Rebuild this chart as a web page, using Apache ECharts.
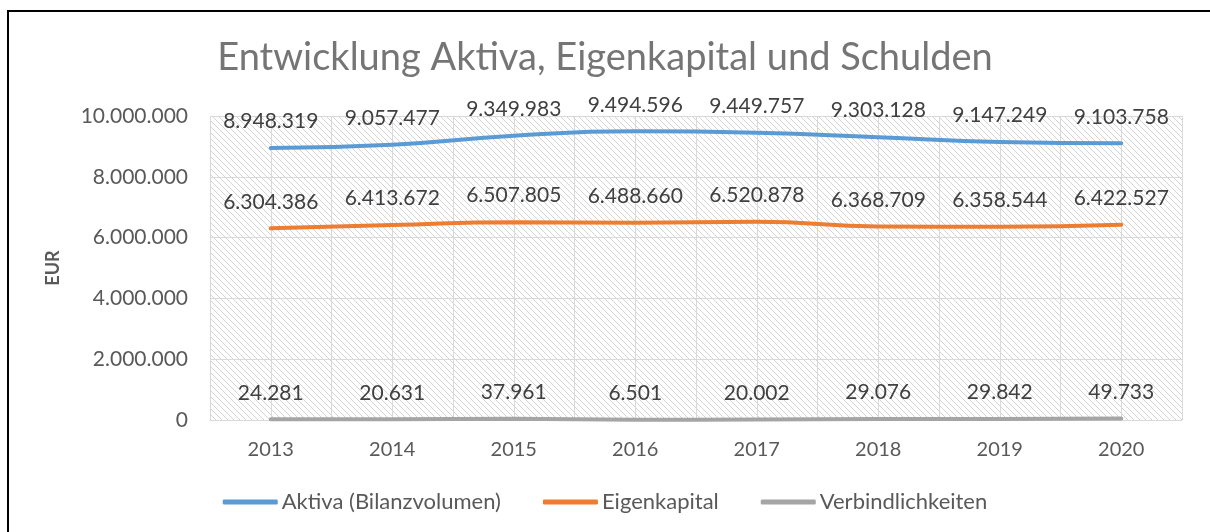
<!DOCTYPE html>
<html>
<head>
<meta charset="utf-8">
<script src="https://cdn.jsdelivr.net/npm/echarts@6/dist/echarts.min.js"></script>
<style>
  html, body { margin: 0; padding: 0; background: #fff; }
  #main { width: 1210px; height: 532px; }
</style>
</head>
<body>
<div id="main"></div>
<script>
// Werte aus der Vorlage
var jahre = ['2013', '2014', '2015', '2016', '2017', '2018', '2019', '2020'];
var aktiva = [8948319, 9057477, 9349983, 9494596, 9449757, 9303128, 9147249, 9103758];
var eigenkapital = [6304386, 6413672, 6507805, 6488660, 6520878, 6368709, 6358544, 6422527];
var verbindlichkeiten = [24281, 20631, 37961, 6501, 20002, 29076, 29842, 49733];
var halbeSpalten = ['', '', '', '', '', '', '', '', '', '', '', '', '', '', '', ''];

var schrift = 'Lato, "Open Sans", sans-serif';

// Punkt als Tausendertrenner
function deZahl(v) {
    return String(Math.round(v)).replace(/\B(?=(\d{3})+(?!\d))/g, '.');
}

// schraffierter Hintergrund der Zeichenfläche
var muster = document.createElement('canvas');
muster.width = 6;
muster.height = 6;
var ctx = muster.getContext('2d');
ctx.fillStyle = '#ffffff';
ctx.fillRect(0, 0, 6, 6);
ctx.strokeStyle = '#d4d4d4';
ctx.lineWidth = 1;
ctx.beginPath();
ctx.moveTo(-1, -1); ctx.lineTo(7, 7);
ctx.moveTo(-1, 5); ctx.lineTo(1, 7);
ctx.moveTo(5, -1); ctx.lineTo(7, 1);
ctx.stroke();

var myChart = echarts.init(document.getElementById('main'));

function linie(name, daten, farbe) {
    return {
        name: name,
        type: 'line',
        data: daten,
        smooth: true,
        showSymbol: true,
        symbol: 'circle',
        symbolSize: 0,
        lineStyle: { width: 4, color: farbe, cap: 'round' },
        itemStyle: { color: farbe },
        label: {
            show: true,
            position: 'top',
            distance: 16,
            fontFamily: schrift,
            fontSize: 21,
            color: '#404040',
            formatter: function (p) { return deZahl(p.value); }
        }
    };
}

option = {
    backgroundColor: '#ffffff',
    animation: false,
    title: {
        text: 'Entwicklung Aktiva, Eigenkapital und Schulden',
        left: 'center',
        top: 34,
        textStyle: {
            fontFamily: schrift,
            fontSize: 38,
            fontWeight: 'normal',
            color: '#757575'
        }
    },
    graphic: [{
        type: 'rect',
        shape: { x: 8, y: 11, width: 1300, height: 600 },
        style: { fill: 'none', stroke: '#000000', lineWidth: 2 },
        silent: true,
        z: 100
    }],
    legend: {
        bottom: 14,
        left: 'center',
        itemWidth: 55,
        itemHeight: 5,
        itemGap: 42,
        icon: 'roundRect',
        textStyle: { fontFamily: schrift, fontSize: 22, color: '#595959', padding: [0, 0, 0, -1] },
        data: ['Aktiva (Bilanzvolumen)', 'Eigenkapital', 'Verbindlichkeiten']
    },
    grid: {
        left: 210,
        right: 28,
        top: 116,
        bottom: 112,
        show: true,
        borderWidth: 0,
        backgroundColor: { image: muster, repeat: 'repeat' }
    },
    xAxis: [{
        type: 'category',
        data: jahre,
        boundaryGap: true,
        axisLine: { show: true, lineStyle: { color: '#d9d9d9', width: 1 } },
        axisTick: { show: false },
        axisLabel: { fontFamily: schrift, fontSize: 20, color: '#595959', margin: 20 },
        splitLine: { show: true, lineStyle: { color: '#d9d9d9', width: 1 } }
    }, {
        type: 'category',
        data: halbeSpalten,
        position: 'bottom',
        boundaryGap: true,
        axisLine: { show: false },
        axisTick: { show: false },
        axisLabel: { show: false },
        splitLine: { show: true, lineStyle: { color: '#d9d9d9', width: 1 } }
    }],
    yAxis: {
        type: 'value',
        min: 0,
        max: 10000000,
        interval: 2000000,
        name: 'EUR',
        nameLocation: 'middle',
        nameGap: 148,
        nameRotate: 90,
        nameTextStyle: { fontFamily: schrift, fontSize: 18, fontWeight: 'bold', color: '#595959' },
        axisLine: { show: false },
        axisTick: { show: false },
        axisLabel: {
            fontFamily: schrift,
            fontSize: 21,
            color: '#595959',
            margin: 22,
            formatter: function (v) { return deZahl(v); }
        },
        splitLine: { show: true, lineStyle: { color: '#d9d9d9', width: 1 } }
    },
    series: [
        linie('Aktiva (Bilanzvolumen)', aktiva, '#5B9BD5'),
        linie('Eigenkapital', eigenkapital, '#ED7D31'),
        linie('Verbindlichkeiten', verbindlichkeiten, '#A5A5A5')
    ]
};

myChart.setOption(option);
</script>
</body>
</html>
